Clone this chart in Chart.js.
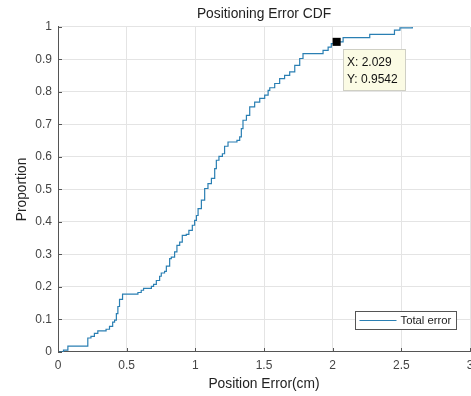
<!DOCTYPE html>
<html><head><meta charset="utf-8">
<script src="https://cdn.jsdelivr.net/npm/chart.js@4/dist/chart.umd.min.js"></script>
<style>html,body{margin:0;padding:0;background:#fff;}#wrap{width:471px;height:396px;}</style>
</head><body><div id="wrap"><canvas id="c" width="471" height="396"></canvas></div>
<script>
// ---- data ----
const chartTitle = 'Positioning Error CDF';
const xAxisTitle = 'Position Error(cm)';
const yAxisTitle = 'Proportion';
const seriesName = 'Total error';
const errorX = [0, 0.04, 0.072, 0.217, 0.24, 0.265, 0.29, 0.35, 0.375, 0.398, 0.412, 0.425, 0.436, 0.448, 0.47,
  0.582, 0.606, 0.623, 0.68, 0.696, 0.716, 0.74, 0.752, 0.776, 0.789, 0.813, 0.825, 0.849, 0.866, 0.886,
  0.905, 0.934, 0.953, 0.978, 0.995, 1.008, 1.02, 1.044, 1.068, 1.092, 1.117, 1.141, 1.153, 1.172, 1.197,
  1.213, 1.238, 1.303, 1.323, 1.335, 1.347, 1.372, 1.396, 1.432, 1.469, 1.505, 1.53, 1.542, 1.578, 1.614,
  1.65, 1.687, 1.724, 1.76, 1.784, 1.93, 1.967, 1.99, 2.029, 2.076, 2.27, 2.45, 2.49, 2.58];
const proportion = [0, 0.006, 0.018, 0.043, 0.048, 0.057, 0.065, 0.07, 0.079, 0.092, 0.098, 0.118, 0.14, 0.162, 0.178,
  0.183, 0.19, 0.196, 0.202, 0.208, 0.22, 0.233, 0.243, 0.248, 0.264, 0.287, 0.292, 0.308, 0.328, 0.338,
  0.359, 0.362, 0.374, 0.39, 0.405, 0.42, 0.441, 0.467, 0.503, 0.518, 0.534, 0.564, 0.59, 0.602, 0.61,
  0.633, 0.646, 0.651, 0.662, 0.687, 0.713, 0.728, 0.754, 0.769, 0.78, 0.79, 0.805, 0.813, 0.826, 0.841,
  0.851, 0.862, 0.882, 0.903, 0.918, 0.928, 0.938, 0.949, 0.9542, 0.967, 0.977, 0.99, 0.997, 1];
const xTickLabels = ['0', '0.5', '1', '1.5', '2', '2.5', '3'];
const yTickLabels = ['0', '0.1', '0.2', '0.3', '0.4', '0.5', '0.6', '0.7', '0.8', '0.9', '1'];
const datatipX = 2.029;
const datatipY = 0.9542;
const datatipLines = ['X: 2.029', 'Y: 0.9542'];

// ---- chart ----
const FONT = '"Liberation Sans", Arial, sans-serif';
const AXIS = '#555555';
const LINE = '#2a7fb3';
const lineData = errorX.map((x, i) => ({x: x, y: proportion[i]}));

const extras = {
  id: 'extras',
  afterDraw(chart) {
    const {ctx, chartArea: a, scales: {x, y}} = chart;
    ctx.save();
    // inward tick marks
    ctx.strokeStyle = AXIS; ctx.lineWidth = 1;
    ctx.beginPath();
    x.ticks.forEach(t => {
      const px = Math.round(x.getPixelForValue(t.value)) + 0.5;
      ctx.moveTo(px, a.bottom); ctx.lineTo(px, a.bottom - 4);
    });
    y.ticks.forEach(t => {
      const py = Math.round(y.getPixelForValue(t.value)) + 0.5;
      ctx.moveTo(a.left, py); ctx.lineTo(a.left + 4, py);
    });
    ctx.stroke();
    // datatip box
    const mx = x.getPixelForValue(datatipX), my = y.getPixelForValue(datatipY);
    const bx = Math.round(mx + 6.5) + 0.5, by = Math.round(my + 7.5) + 0.5, bw = 62, bh = 41;
    ctx.fillStyle = '#fbfbe4';
    ctx.strokeStyle = '#cfcfc4';
    ctx.fillRect(bx, by, bw, bh);
    ctx.strokeRect(bx, by, bw, bh);
    ctx.fillStyle = '#111';
    ctx.font = '12px ' + FONT;
    ctx.textBaseline = 'middle';
    ctx.textAlign = 'left';
    ctx.fillText(datatipLines[0], bx + 3.5, by + 13);
    ctx.fillText(datatipLines[1], bx + 3.5, by + 30.5);
    // legend box
    const lw = 101, lh = 18;
    const lx = Math.round(a.right - 14 - lw) + 0.5, ly = Math.round(a.bottom - 22.5 - lh) + 0.5;
    ctx.fillStyle = '#ffffff';
    ctx.fillRect(lx, ly, lw, lh);
    ctx.strokeStyle = '#555';
    ctx.strokeRect(lx, ly, lw, lh);
    ctx.strokeStyle = LINE; ctx.lineWidth = 1.2;
    ctx.beginPath();
    ctx.moveTo(lx + 4, ly + lh / 2); ctx.lineTo(lx + 41, ly + lh / 2);
    ctx.stroke();
    ctx.fillStyle = '#222';
    ctx.font = '11.3px ' + FONT;
    ctx.fillText(seriesName, lx + 45, ly + lh / 2 + 0.5);
    ctx.restore();
  }
};

new Chart(document.getElementById('c'), {
  type: 'line',
  data: {
    datasets: [
      {label: 'tip', data: [{x: datatipX, y: datatipY}], order: 0, showLine: false,
        pointStyle: 'rect', pointRadius: 5.7, pointBackgroundColor: '#000', pointBorderColor: '#000', pointBorderWidth: 0},
      {label: seriesName, data: lineData, order: 1, stepped: 'before', borderColor: LINE, borderWidth: 1.2,
        pointRadius: 0, fill: false, tension: 0}
    ]
  },
  options: {
    responsive: false, animation: false, devicePixelRatio: 1,
    layout: {autoPadding: false, padding: {left: 0, right: 1, top: 0, bottom: 0}},
    plugins: {
      legend: {display: false},
      tooltip: {enabled: false},
      title: {display: true, text: chartTitle, fullSize: false, color: '#222',
        font: {family: FONT, size: 13.8, weight: 'normal', lineHeight: 1.2},
        padding: {top: 6, bottom: 4.4}}
    },
    scales: {
      x: {
        type: 'linear', min: 0, max: 3,
        afterFit(s) { s.height = 44; s.paddingLeft = 0; s.paddingRight = 0; },
        ticks: {stepSize: 0.5, padding: 6.5, color: '#444', maxRotation: 0, autoSkip: false,
          font: {family: FONT, size: 12}, callback: v => xTickLabels[Math.round(v * 2)]},
        grid: {color: '#e4e4e4', lineWidth: 1, drawTicks: false},
        border: {display: true, color: AXIS, width: 1},
        title: {display: true, text: xAxisTitle, color: '#222', font: {family: FONT, size: 13.8}, padding: {top: 0, bottom: 4}}
      },
      y: {
        type: 'linear', min: 0, max: 1,
        afterFit(s) { s.width = 58; s.paddingTop = 0; s.paddingBottom = 0; },
        ticks: {stepSize: 0.1, padding: 6, color: '#444', autoSkip: false,
          font: {family: FONT, size: 12}, callback: v => yTickLabels[Math.round(v * 10)]},
        grid: {color: '#e4e4e4', lineWidth: 1, drawTicks: false},
        border: {display: true, color: AXIS, width: 1},
        title: {display: true, text: yAxisTitle, color: '#222', font: {family: FONT, size: 13.8}, padding: {top: 14, bottom: 0}}
      }
    }
  },
  plugins: [extras]
});
</script>
</body></html>
